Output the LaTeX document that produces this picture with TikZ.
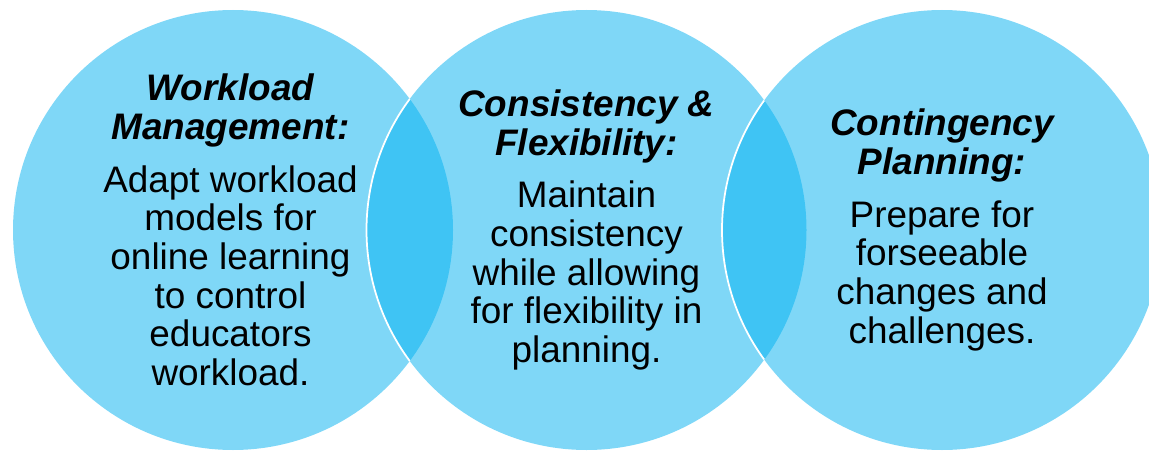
\documentclass[tikz,border=0pt]{standalone}
\usepackage{fontspec}
\setmainfont{Liberation Sans}
\definecolor{skyblue}{HTML}{00B0F0}
\tikzset{
  bubble/.style={circle, minimum size=8.8cm, inner sep=0pt, fill=skyblue, fill opacity=0.5},
  rim/.style={draw=white, line width=1pt},
  blurb/.style={align=center, text=black, font=\fontsize{21}{22}\selectfont},
}
\newcommand{\heading}[1]{{\bfseries\itshape #1}}

\begin{document}
\begin{tikzpicture}
    \clip (0,0) rectangle (22.98,9);

    % three overlapping circles
    \node[bubble] (left) at (4.66,4.4) {};
    \node[bubble] (mid) at (11.73,4.4) {};
    \node[bubble] (right) at (18.84,4.4) {};

    % white edges where a circle lies over the previous one
    \begin{scope}
        \clip (left.center) circle (4.4);
        \draw[rim] (mid.center) circle (4.4);
    \end{scope}
    \begin{scope}
        \clip (mid.center) circle (4.4);
        \draw[rim] (right.center) circle (4.4);
    \end{scope}

    % texts
    \node[blurb] (lefttext) at ([xshift=-0.05cm]left.center) {\heading{Workload}\\\heading{Management:}\\[8pt]
        Adapt workload\\models for\\online learning\\to control\\educators\\workload.};
    \node[blurb] (midtext) at (mid.center) {\heading{Consistency \&}\\\heading{Flexibility:}\\[8pt]
        Maintain\\consistency\\while allowing\\for flexibility in\\planning.};
    \node[blurb] (righttext) at (right.center) {\heading{Contingency}\\\heading{Planning:}\\[8pt]
        Prepare for\\forseeable\\changes and\\challenges.};
\end{tikzpicture}
\end{document}
